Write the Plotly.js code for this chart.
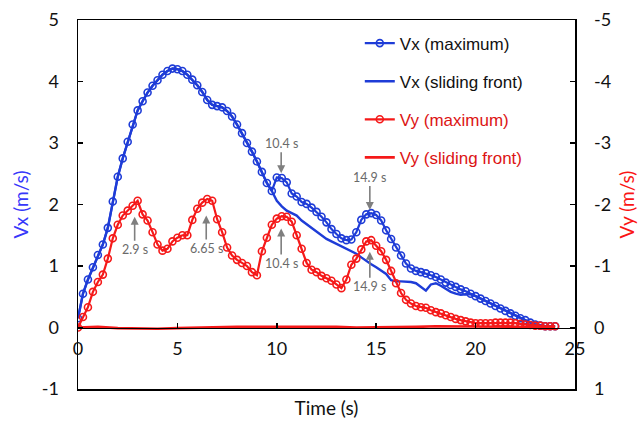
<!DOCTYPE html>
<html>
<head>
<meta charset="utf-8">
<script src="https://cdn.plot.ly/plotly-3.0.1.min.js"></script>
<style>html,body{margin:0;padding:0;background:#fff;}#chart{width:643px;height:422px;}</style>
</head>
<body>
<div id="chart"></div>
<script>
// Time axis (s), sampled every 0.25 s
const time = [0,0.25,0.5,0.75,1,1.25,1.5,1.75,2,2.25,2.5,2.75,3,3.25,3.5,3.75,4,4.25,4.5,4.75,5,5.25,5.5,5.75,6,6.25,6.5,6.75,7,7.25,7.5,7.75,8,8.25,8.5,8.75,9,9.25,9.5,9.75,10,10.25,10.5,10.75,11,11.25,11.5,11.75,12,12.25,12.5,12.75,13,13.25,13.5,13.75,14,14.25,14.5,14.75,15,15.25,15.5,15.75,16,16.25,16.5,16.75,17,17.25,17.5,17.75,18,18.25,18.5,18.75,19,19.25,19.5,19.75,20,20.25,20.5,20.75,21,21.25,21.5,21.75,22,22.25,22.5,22.75,23,23.25,23.5,23.75,24];

// Vx (maximum), m/s
const vxMax = [0.15,0.55,0.78,0.98,1.18,1.35,1.62,2.05,2.45,2.75,3.02,3.3,3.53,3.68,3.82,3.93,4.02,4.11,4.17,4.21,4.2,4.17,4.11,4.03,3.94,3.83,3.7,3.62,3.6,3.58,3.52,3.43,3.3,3.16,3.0,2.86,2.7,2.53,2.35,2.22,2.44,2.43,2.36,2.18,2.13,2.04,2.01,1.95,1.88,1.8,1.71,1.6,1.52,1.45,1.42,1.43,1.55,1.75,1.84,1.86,1.83,1.74,1.58,1.44,1.3,1.17,1.04,0.96,0.92,0.9,0.88,0.85,0.82,0.78,0.73,0.69,0.66,0.62,0.59,0.55,0.51,0.47,0.43,0.39,0.35,0.31,0.27,0.23,0.19,0.15,0.12,0.08,0.05,0.03,0.02,0.02,0.02];

// Vx (sliding front), m/s
const vxFront = [0.15,0.55,0.78,0.98,1.18,1.35,1.62,2.05,2.45,2.75,3.02,3.3,3.53,3.68,3.82,3.93,4.02,4.11,4.17,4.21,4.2,4.17,4.11,4.03,3.94,3.83,3.7,3.62,3.6,3.58,3.52,3.43,3.3,3.16,3.0,2.86,2.7,2.53,2.35,2.22,2.06,1.97,1.9,1.86,1.82,1.74,1.68,1.63,1.57,1.5,1.44,1.4,1.36,1.32,1.28,1.24,1.2,1.14,1.08,1.03,0.98,0.93,0.87,0.77,0.75,0.75,0.75,0.74,0.72,0.66,0.6,0.7,0.72,0.68,0.63,0.58,0.55,0.53,0.54,0.54,0.51,0.47,0.43,0.39,0.35,0.31,0.27,0.23,0.19,0.15,0.12,0.08,0.05,0.03,0.02,0.02,0.02];

// Vy (maximum), m/s (negative = downward, right axis reversed)
const vyMax = [0,-0.17,-0.33,-0.58,-0.74,-0.86,-1.12,-1.45,-1.67,-1.82,-1.9,-1.98,-2.06,-1.84,-1.74,-1.55,-1.35,-1.25,-1.28,-1.4,-1.46,-1.5,-1.5,-1.75,-1.93,-2.03,-2.09,-2.06,-1.76,-1.55,-1.3,-1.17,-1.1,-1.05,-1.0,-0.9,-0.85,-1.24,-1.46,-1.67,-1.77,-1.81,-1.8,-1.72,-1.5,-1.28,-1.05,-0.94,-0.9,-0.84,-0.8,-0.76,-0.7,-0.64,-0.78,-1.02,-1.12,-1.27,-1.4,-1.42,-1.33,-1.24,-1.1,-0.92,-0.72,-0.56,-0.45,-0.39,-0.35,-0.33,-0.32,-0.28,-0.25,-0.23,-0.2,-0.17,-0.14,-0.12,-0.1,-0.08,-0.07,-0.07,-0.07,-0.07,-0.08,-0.08,-0.08,-0.08,-0.07,-0.06,-0.05,-0.04,-0.03,-0.03,-0.02,-0.02,-0.02];

// Vy (sliding front), m/s, sampled every 1 s
const timeFront = [0,1,2,3,4,5,6,7,8,9,10,11,12,13,14,15,16,17,18,19,20,21,22,23,24];
const vyFront = [0,-0.01,0.01,0.02,0.02,0.01,0,0,-0.01,-0.01,-0.01,-0.02,-0.01,-0.01,0,0,-0.01,-0.01,-0.02,-0.02,-0.02,-0.01,-0.01,-0.01,0];

// Tick labels
const xTickVals = [0,5,10,15,20,25];
const xTickText = ['0','5','10','15','20','25'];
const yTickVals = [-1,0,1,2,3,4,5];
const yTickText = ['-1','0','1','2','3','4','5'];
const y2TickVals = [1,0,-1,-2,-3,-4,-5];
const y2TickText = ['1','0','-1','-2','-3','-4','-5'];

// Annotation labels
const annTimes = ['2.9 s','6.65 s','10.4 s','14.9 s','10.4 s','14.9 s'];
const annX = [2.85,6.45,10.22,14.68,10.22,14.68];
const annY = [1.8,1.82,2.51,1.91,1.61,1.23];
const annOff = [33,33,-30,-33,35,35];

const BLUE = 'rgb(30,60,215)';
const RED = 'rgb(245,25,25)';

const traces = [
  {x: time, y: vxMax, xaxis:'x', yaxis:'y', mode:'lines+markers', name:'Vx (maximum)', legendgroup:'a',
   line:{color:BLUE, width:2.2}, marker:{symbol:'circle-open', size:7, color:BLUE, line:{width:1.6, color:BLUE}}},
  {x: time, y: vxFront, xaxis:'x', yaxis:'y', mode:'lines', name:'Vx (sliding front)', legendgroup:'b',
   line:{color:BLUE, width:2.4}},
  {x: time, y: vyMax, xaxis:'x', yaxis:'y2', mode:'lines+markers', name:'<span style="color:rgb(220,20,20)">Vy (maximum)</span>', legendgroup:'c',
   line:{color:RED, width:2.2}, marker:{symbol:'circle-open', size:7, color:RED, line:{width:1.6, color:RED}}},
  {x: timeFront, y: vyFront, xaxis:'x2', yaxis:'y2', mode:'lines', name:'<span style="color:rgb(220,20,20)">Vy (sliding front)</span>', legendgroup:'d',
   line:{color:RED, width:2.6}}
];

const annotations = annTimes.map((t,i)=>({
  x: annX[i], y: annY[i], xref:'x', yref:'y', text: t, showarrow:true,
  ax: 0, ay: annOff[i], arrowhead:2, arrowsize:1, arrowwidth:1.6, arrowcolor:'#7f7f7f',
  font:{family:'Lato, sans-serif', size:12.5, color:'#6a6a6a'}
}));

const layout = {
  width:643, height:422,
  margin:{l:78, r:68, t:20, b:33},
  paper_bgcolor:'#fff', plot_bgcolor:'#fff',
  font:{family:'Lato, "Liberation Sans", sans-serif', color:'#111'},
  showlegend:true,
  legend:{x:0.567, y:0.985, xanchor:'left', yanchor:'top', bgcolor:'rgba(0,0,0,0)', traceorder:'grouped', tracegroupgap:13,
    font:{family:'"Liberation Sans", Arial, sans-serif', size:17, color:'#111'}},
  xaxis:{range:[0,25], anchor:'free', position:1/6, showline:true, linecolor:'#000', linewidth:1.5,
    ticks:'inside', ticklen:5, tickwidth:1.5, tickcolor:'#000', tickmode:'array', tickvals:xTickVals, ticktext:xTickText,
    showgrid:false, zeroline:false, tickfont:{size:18, color:'#111'}, ticklabelstandoff:4},
  xaxis2:{range:[0,25], overlaying:'x', anchor:'y', side:'bottom', showline:true, mirror:true, linecolor:'#000', linewidth:1.5,
    showticklabels:false, ticks:'', showgrid:false, zeroline:false,
    title:{text:'Time (s)', font:{size:19, color:'#111'}, standoff:12}},
  yaxis:{range:[-1,5], tickmode:'array', tickvals:yTickVals, ticktext:yTickText, showline:true, linecolor:'#000', linewidth:1.5,
    ticks:'inside', ticklen:5, tickwidth:1.5,
    tickcolor:'#000', showgrid:false, zeroline:false, tickfont:{size:18, color:'#111'}, ticklabelstandoff:14,
    title:{text:'Vx (m/s)', font:{size:19, color:'rgb(55,55,250)'}, standoff:8}},
  yaxis2:{range:[1,-5], tickmode:'array', tickvals:y2TickVals, ticktext:y2TickText, overlaying:'y', side:'right',
    showline:true, linecolor:'#000', linewidth:1.5,
    ticks:'inside', ticklen:5, tickwidth:1.5, tickcolor:'#000', showgrid:false, zeroline:false,
    tickfont:{size:18, color:'#111'}, ticklabelstandoff:14,
    title:{text:'Vy (m/s)', font:{size:19, color:'rgb(250,20,20)'}, standoff:10}},
  annotations: annotations
};

Plotly.newPlot('chart', traces, layout, {displayModeBar:false, staticPlot:true});
</script>
</body>
</html>
